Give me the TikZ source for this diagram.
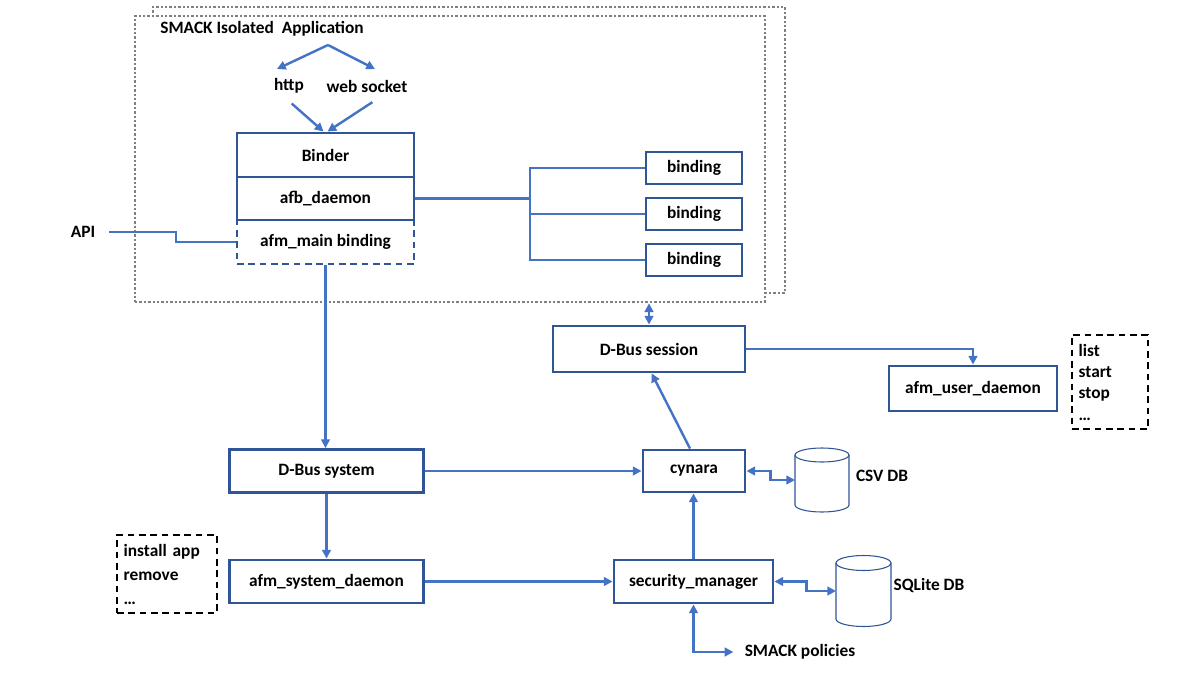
\documentclass[tikz,border=0pt]{standalone}
\usepackage{fontspec}
\setmainfont{Carlito}
\usetikzlibrary{arrows.meta,calc}
\definecolor{boxblue}{RGB}{47,85,151}
\definecolor{conblue}{RGB}{68,114,196}
\definecolor{dotgray}{RGB}{128,128,128}
\tikzset{
  every node/.style={font=\fontsize{13}{16}\selectfont\bfseries, text=black},
  sz/.style 2 args={minimum width=#1*0.75pt, minimum height=#2*0.75pt},
  bbox/.style={draw=boxblue, line width=2.2pt, fill=white, inner sep=0pt},
  dbox/.style={draw=boxblue, line width=2.2pt, dash pattern=on 5pt off 3.5pt, inner sep=0pt},
  lbox/.style={draw=black, line width=1.7pt, dash pattern=on 5pt off 3.5pt, inner xsep=5pt, inner ysep=0pt, align=left},
  smackbox/.style={draw=dotgray, line width=2pt, dash pattern=on 1.8pt off 1.5pt},
  con/.style={draw=conblue, line width=1.8pt},
  arr/.style={con, -{Triangle[length=6.5pt,width=6.5pt]}},
  darr/.style={con, {Triangle[length=6.5pt,width=6.5pt]}-{Triangle[length=6.5pt,width=6.5pt]}},
  dbhold/.style={inner sep=0pt, outer sep=0pt},
  cyl/.style={draw=boxblue, line width=0.8pt},
}
\begin{document}
\begin{tikzpicture}[x=0.75pt, y=-0.75pt]
\useasboundingbox (0,0) rectangle (1200,675);
% SMACK isolated application frames
\node[smackbox, sz={632}{286}] (smackback) at (469,150) {};
\node[smackbox, fill=white, sz={630}{286}] (smack) at (450,159) {};
\node (title) at (262,29) {SMACK Isolated\ \ Application};
\coordinate (apex) at (328,45);
\coordinate (httpin) at (277,69);
\coordinate (wsin) at (375,69);
\draw[arr] (apex) -- (httpin);
\draw[arr] (apex) -- (wsin);
\node (http) at (289,86) {http};
\node (ws) at (367,86) {web socket};
% binder stack
\node[dbox, sz={177}{44}] (afm) at (325.5,242) {afm\_main binding};
\node[bbox, sz={177}{44}] (binder) at (325.5,155) {Binder};
\node[bbox, sz={177}{43}] (afb) at (325.5,198.5) {afb\_daemon};
\draw[arr] ([xshift=2pt,yshift=-4pt]http.south) -- ([xshift=-1.5pt]binder.north);
\draw[arr] ([xshift=4pt,yshift=-4pt]ws.south) -- ([xshift=1.5pt]binder.north);
% bindings
\node[bbox, sz={96}{32}] (b1) at (694,168) {binding};
\node[bbox, sz={96}{32}] (b2) at (694,214) {binding};
\node[bbox, sz={96}{32}] (b3) at (694,260) {binding};
\coordinate (jn) at (530,198.5);
\draw[con] (afb.east) -- (jn);
\draw[con] (b1.west) -| (jn);
\draw[con] (b3.west) -| (jn);
\draw[con] (b2.west) -- (b2.west -| jn);
% API
\node (api) at (83,232) {API};
\draw[con] ([xshift=7pt]api.east) -- ++(67,0) |- (afm.west);
% D-Bus session
\node[bbox, sz={192}{46}] (dbsess) at (649,349) {D-Bus session};
\draw[darr] (dbsess.north) -- (dbsess.north |- smack.south);
\node[bbox, sz={168}{45}] (aud) at (973,388.5) {afm\_user\_daemon};
\draw[arr] (dbsess.east) -| (aud.north);
\node[lbox, text width=47pt, minimum height=70.5pt] (ulist) at (1110,382) {list\\start\\stop\\\ldots};
% D-Bus system
\node[bbox, sz={194}{43}] (dbsys) at (326.5,471) {D-Bus system};
\draw[arr] (afm.south) -- (afm.south |- dbsys.north);
\node[bbox, sz={102}{42}] (cynara) at (694,471) {cynara};
\draw[arr] (dbsys.east) -- (cynara.west);
\draw[arr] ([xshift=-3pt]cynara.north) -- ([xshift=2pt]dbsess.south);
% CSV DB cylinder
\node[dbhold, sz={54}{64}] (csv) at (822,480) {};
\draw[cyl] (795,455) -- (795,505) arc[start angle=180, end angle=0, x radius=27, y radius=7] -- (849,455);
\draw[cyl] (822,455) ellipse [x radius=27, y radius=7];
\node (csvt) at (882,476) {CSV DB};
\draw[darr] (cynara.east) -- ++(24,0) |- (csv.west);
% system daemon
\node[bbox, sz={194}{43}] (afsd) at (326.5,581.5) {afm\_system\_daemon};
\draw[arr] (dbsys.south) -- (dbsys.south |- afsd.north);
\node[bbox, sz={159}{43}] (secm) at (693.5,581.5) {security\_manager};
\draw[arr] (afsd.east) -- (secm.west);
\draw[arr] (secm.north) -- (secm.north |- cynara.south);
% SQLite DB cylinder
\node[dbhold, sz={55}{72}] (sql) at (863.5,591) {};
\draw[cyl] (836,563) -- (836,619) arc[start angle=180, end angle=0, x radius=27.5, y radius=7.5] -- (891,563);
\draw[cyl] (863.5,563) ellipse [x radius=27.5, y radius=7.5];
\node (sqlt) at (929,585) {SQLite DB};
\draw[darr] (secm.east) -- ++(32,0) |- (sql.west);
\node (pol) at (800,652) {SMACK policies};
\draw[darr] (secm.south) |- ([xshift=-5pt]pol.west);
\node[lbox, text width=65pt, minimum height=58.5pt, font=\fontsize{13}{18}\selectfont\bfseries] (slist) at (167,574) {install app\\remove\\\ldots};
\end{tikzpicture}
\end{document}
